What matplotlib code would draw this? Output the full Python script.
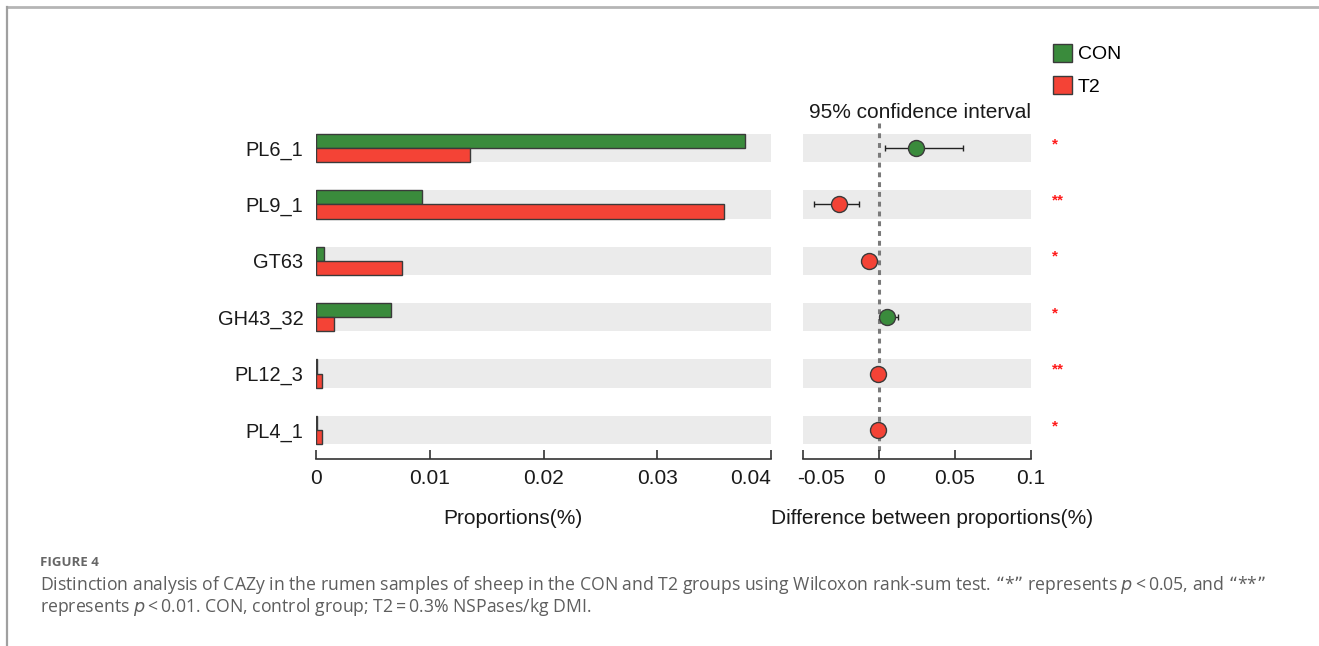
import matplotlib
matplotlib.use("Agg")
import matplotlib.pyplot as plt
import matplotlib.transforms as mtransforms
from matplotlib.patches import Patch, Rectangle
from matplotlib.lines import Line2D

# ---- data -------------------------------------------------------------
families = ["PL6_1", "PL9_1", "GT63", "GH43_32", "PL12_3", "PL4_1"]
con_prop = [0.0377, 0.0093, 0.0007, 0.0066, 0.0001, 0.0001]
t2_prop = [0.0135, 0.0359, 0.0076, 0.0016, 0.0005, 0.0005]
diff = [0.0242, -0.0266, -0.0069, 0.0050, -0.0004, -0.0004]
ci_low = [0.0037, -0.0427, -0.0090, 0.0010, -0.0008, -0.0008]
ci_high = [0.0552, -0.0134, -0.0048, 0.0123, 0.0000, 0.0000]
signif = ["*", "**", "*", "*", "**", "*"]
group_names = ["CON", "T2"]
prop_ticks = [0, 0.01, 0.02, 0.03, 0.04]
prop_ticklabels = ["0", "0.01", "0.02", "0.03", "0.04"]
diff_ticks = [-0.05, 0, 0.05, 0.1]
diff_ticklabels = ["-0.05", "0", "0.05", "0.1"]

GREEN = "#3a8b3c"
RED = "#f44336"
BAND = "#ebebeb"
EDGE = "#3a3a3a"
TXT = "#1a1a1a"
FS = 15

W, H = 1319, 646
fig = plt.figure(figsize=(W / 100, H / 100), dpi=100)
plt.rcParams["font.family"] = ["Liberation Sans", "DejaVu Sans"]


def fx(px):
    return px / W


def fy(py):
    return 1 - py / H


# frame lines along the top and left edge
fig.add_artist(Line2D([fx(6.5), 1], [fy(6.5), fy(6.5)], color="#b5b5b5", lw=2.0))
fig.add_artist(Line2D([fx(6.5), fx(6.5)], [fy(6.5), 0], color="#a0a0a0", lw=1.6))

ax_top, ax_bot = 120, 459
y_lim = (5.514, -0.496)
n = len(families)
ypos = list(range(n))


def style_bottom_axis(ax, lo, hi, ticks, labels):
    ax.set_xlim(lo, hi)
    ax.set_xticks(ticks)
    ax.set_xticklabels(labels, fontsize=FS, color=TXT)
    ax.tick_params(axis="x", direction="in", length=6.5, width=1.2,
                   color="#333333", pad=7)
    for s in ["top", "right", "left"]:
        ax.spines[s].set_visible(False)
    ax.spines["bottom"].set_color("#333333")
    ax.spines["bottom"].set_linewidth(1.2)
    ax.spines["bottom"].set_bounds(lo, hi)
    ax.set_facecolor("none")


# ---- left panel: proportions ------------------------------------------
ax1 = fig.add_axes([fx(316), fy(ax_bot), fx(771 - 316), (ax_bot - ax_top) / H])
half = 0.252
for i in ypos:
    ax1.add_patch(Rectangle((0, i - half), 0.04, 2 * half, color=BAND, lw=0, zorder=0))
ax1.barh([i - half / 2 for i in ypos], con_prop, height=half, color=GREEN,
         edgecolor=EDGE, lw=1.0, zorder=2)
ax1.barh([i + half / 2 for i in ypos], t2_prop, height=half, color=RED,
         edgecolor=EDGE, lw=1.0, zorder=2)
ax1.set_ylim(*y_lim)
ax1.set_yticks(ypos)
ax1.set_yticklabels(families, fontsize=14.4, color=TXT)
ax1.tick_params(axis="y", length=0, pad=9)
style_bottom_axis(ax1, 0, 0.04, prop_ticks, prop_ticklabels)
ax1.get_xticklabels()[-1].set_horizontalalignment("right")

# ---- right panel: differences with 95% CI -----------------------------
ax2 = fig.add_axes([fx(803), fy(ax_bot), fx(1031 - 803), (ax_bot - ax_top) / H])
for i in ypos:
    ax2.add_patch(Rectangle((-0.05, i - half), 0.15, 2 * half, color=BAND, lw=0, zorder=0))
ax2.vlines(0, -0.44, 5.45, colors="#7a7a7a", linestyles=(0, (1.6, 1.6)), lw=2.2, zorder=1)
for i in ypos:
    c = GREEN if diff[i] > 0 else RED
    ax2.errorbar(diff[i], i, xerr=[[diff[i] - ci_low[i]], [ci_high[i] - diff[i]]],
                 fmt="o", color=c, ecolor="#222222", elinewidth=1.0, capsize=2.5,
                 capthick=1.0, markersize=11.5, markeredgecolor=EDGE,
                 markeredgewidth=1.0, zorder=3)
    ax2.text(1.092, i - 0.07, signif[i], transform=ax2.get_yaxis_transform(),
             color="#ff1a1a", fontsize=11, fontweight="bold", ha="left", va="center")
ax2.set_ylim(*y_lim)
ax2.set_yticks([])
style_bottom_axis(ax2, -0.05, 0.1, diff_ticks, diff_ticklabels)
first = ax2.get_xticklabels()[0]
first.set_horizontalalignment("left")
first.set_transform(first.get_transform()
                    + mtransforms.ScaledTranslation(-6 / 100, 0, fig.dpi_scale_trans))

fig.text(fx(920), fy(112), "95% confidence interval", fontsize=FS, color=TXT,
         ha="center", va="center")

# axis titles
fig.text(fx(513), fy(519), "Proportions(%)", fontsize=FS, color=TXT,
         ha="center", va="center")
fig.text(fx(932), fy(519), "Difference between proportions(%)", fontsize=FS,
         color=TXT, ha="center", va="center")

# legend
handles = [Patch(facecolor=GREEN, edgecolor=EDGE, lw=1.0),
           Patch(facecolor=RED, edgecolor=EDGE, lw=1.0)]
fig.legend(handles, group_names, loc="upper left",
           bbox_to_anchor=(fx(1045), fy(36)), frameon=False, fontsize=14,
           handlelength=1.0, handleheight=1.05, handletextpad=0.3,
           labelspacing=0.65, borderaxespad=0)

# caption
cap_font = ["Open Sans", "DejaVu Sans"]
fig.text(fx(40), fy(563), "FIGURE 4", fontsize=9.5, color="#666666",
         fontweight="bold", family=cap_font, ha="left", va="center")
fig.text(fx(40), fy(585),
         "Distinction analysis of CAZy in the rumen samples of sheep in the CON and T2 "
         "groups using Wilcoxon rank-sum test. \u201c*\u201d represents $p$\u2009<\u20090.05, "
         "and \u201c**\u201d",
         fontsize=12.7, color="#5e5e5e", family=cap_font, ha="left", va="center")
fig.text(fx(40), fy(607),
         "represents $p$\u2009<\u20090.01. CON, control group; T2\u2009=\u20090.3% "
         "NSPases/kg DMI.",
         fontsize=12.7, color="#5e5e5e", family=cap_font, ha="left", va="center")

fig.savefig("out.png", dpi=100)
